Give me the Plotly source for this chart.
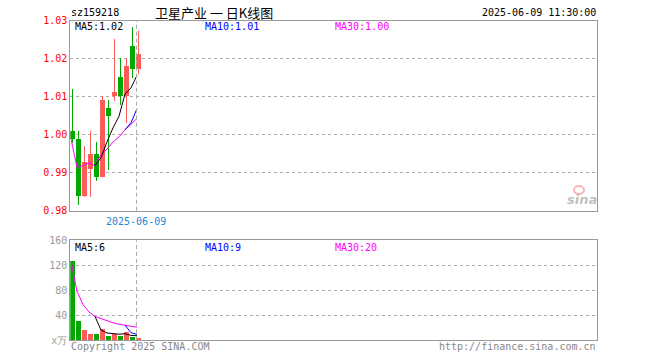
import plotly.graph_objects as go
import numpy as np
import pandas as pd

# ---------------- data ----------------
dates = ["2025-05-22", "2025-05-23", "2025-05-26", "2025-05-27", "2025-05-28", "2025-05-29",
         "2025-05-30", "2025-06-03", "2025-06-04", "2025-06-05", "2025-06-06", "2025-06-09"]
open_ = [1.0010, 0.9989, 0.9839, 0.9910, 0.9949, 0.9889, 1.0070, 1.0102, 1.0152, 1.0102, 1.0233, 1.0173]
high = [1.0120, 1.0010, 0.9970, 1.0010, 0.9981, 1.0102, 1.0091, 1.0252, 1.0202, 1.0202, 1.0283, 1.0273]
low = [0.9978, 0.9815, 0.9836, 0.9836, 0.9878, 0.9888, 0.9907, 1.0089, 1.0078, 1.0031, 1.0149, 1.0160]
close = [0.9989, 0.9839, 0.9928, 0.9949, 0.9889, 1.0091, 1.0049, 1.0112, 1.0102, 1.0181, 1.0173, 1.0212]
volume = [126, 30, 15, 9, 9, 17, 6, 9, 6, 12, 4, 3]  # 万

price_ticks = [0.98, 0.99, 1.00, 1.01, 1.02, 1.03]
vol_ticks = [0, 40, 80, 120, 160]
vol_ticktext = ["x万", "40", "80", "120", "160"]

title_text = "卫星产业 一 日K线图"
code_text = "sz159218"
time_text = "2025-06-09 11:30:00"
price_ma_labels = ["MA5:1.02", "MA10:1.01", "MA30:1.00"]
vol_ma_labels = ["MA5:6", "MA10:9", "MA30:20"]

# ---------------- derived ----------------
W, H = 660, 360
RED = "#FF5A5A"
GREEN = "#00A800"
MONO = "DejaVu Sans Mono"

n = len(dates)
x = np.arange(n)
o = np.array(open_); c = np.array(close); hi = np.array(high); lo = np.array(low)
up = c >= o
colors = [RED if u else GREEN for u in up]

cs = pd.Series(close)
vs = pd.Series(volume, dtype=float)
ma5 = cs.rolling(5).mean()
ma10 = cs.rolling(10).mean()
ma30 = cs.expanding(min_periods=1).mean()
vma5 = vs.rolling(5).mean()
vma10 = vs.rolling(10).mean()
vma30 = vs.expanding(min_periods=1).mean()

ma_x = x - 0.25

fig = go.Figure()

# wicks
for col, mask in [(RED, up), (GREEN, ~up)]:
    wx, wy = [], []
    for i in x[mask]:
        wx += [i, i, None]
        wy += [lo[i], hi[i], None]
    fig.add_trace(go.Scatter(x=wx, y=wy, mode="lines", line=dict(color=col, width=1),
                             xaxis="x", yaxis="y", hoverinfo="skip", showlegend=False))

# bodies
body_h = np.maximum(np.abs(c - o), 0.00005)
fig.add_trace(go.Bar(x=x, y=body_h, base=np.minimum(o, c), width=5 / 6,
                     marker=dict(color=colors, line=dict(width=0)),
                     xaxis="x", yaxis="y", showlegend=False,
                     customdata=np.stack([o, hi, lo, c], axis=1), hovertext=dates,
                     hovertemplate="%{hovertext}<br>O %{customdata[0]:.4f} H %{customdata[1]:.4f}"
                                   "<br>L %{customdata[2]:.4f} C %{customdata[3]:.4f}<extra></extra>"))

# price MAs
for s, col in [(ma30, "#FF00FF"), (ma10, "#0000FF"), (ma5, "#000000")]:
    fig.add_trace(go.Scatter(x=ma_x, y=s, mode="lines", line=dict(color=col, width=1),
                             xaxis="x", yaxis="y", showlegend=False, hoverinfo="skip"))

# volume bars
fig.add_trace(go.Bar(x=x, y=volume, width=5 / 6, marker=dict(color=colors, line=dict(width=0)),
                     xaxis="x2", yaxis="y2", showlegend=False, hovertext=dates))
for s, col in [(vma30, "#FF00FF"), (vma10, "#0000FF"), (vma5, "#000000")]:
    fig.add_trace(go.Scatter(x=ma_x, y=s, mode="lines", line=dict(color=col, width=1),
                             xaxis="x2", yaxis="y2", showlegend=False, hoverinfo="skip"))

# ---------------- layout ----------------
def px_x(p):
    return p / W

def px_y(p):
    return 1 - p / H

xr = [-0.367, 87.47]
main_dom = [px_y(210.7), px_y(20.7)]
vol_dom = [px_y(340.0), px_y(240.3)]
x_dom = [px_x(70.3), px_x(597.3)]

axis_common = dict(showline=True, mirror=True, linecolor="#999999", linewidth=1, zeroline=False)

fig.update_layout(
    width=W, height=H, margin=dict(l=0, r=0, t=0, b=0, autoexpand=False),
    paper_bgcolor="white", plot_bgcolor="white", bargap=0, showlegend=False,
    xaxis=dict(domain=x_dom, range=xr, anchor="y", showgrid=False, showticklabels=False,
               ticks="", **axis_common),
    xaxis2=dict(domain=x_dom, range=xr, anchor="y2", matches="x", showgrid=False,
                showticklabels=False, ticks="", **axis_common),
    yaxis=dict(domain=main_dom, range=[0.98, 1.03], anchor="x", tickvals=price_ticks,
               tickformat=".2f", tickfont=dict(family=MONO, size=10, color="#FF0000"),
               showgrid=True, gridcolor="#AAAAAA", griddash="dot", gridwidth=1, ticks="",
               **axis_common),
    yaxis2=dict(domain=vol_dom, range=[0, 160], anchor="x2", tickvals=vol_ticks,
                ticktext=vol_ticktext, tickfont=dict(family=MONO, size=10, color="#999999"),
                showgrid=True, gridcolor="#AAAAAA", griddash="dot", gridwidth=1, ticks="",
                **axis_common),
)

last_x = x[-1] - 0.33
fig.add_shape(type="line", xref="x", yref="y domain", x0=last_x, x1=last_x, y0=0, y1=1,
              line=dict(color="#AAAAAA", width=1, dash="4px,3px"))
fig.add_shape(type="line", xref="x2", yref="y2 domain", x0=last_x, x1=last_x, y0=0, y1=1,
              line=dict(color="#AAAAAA", width=1, dash="4px,3px"))

# sina logo (decorative)
fig.add_shape(type="circle", xref="paper", yref="paper",
              x0=px_x(574), x1=px_x(584), y0=px_y(194), y1=px_y(186),
              line=dict(color="rgba(240,120,120,0.55)", width=2))


def ann(text, px, py, color="#000000", size=10, xanchor="left", family=MONO, **kw):
    fig.add_annotation(text=text, x=px_x(px), y=px_y(py), xref="paper", yref="paper",
                       xanchor=xanchor, yanchor="middle", showarrow=False,
                       font=dict(family=family, size=size, color=color), **kw)


ann(code_text, 69, 13)
ann(title_text, 214, 13, size=13, xanchor="center", family="Noto Sans CJK SC")
ann(time_text, 598, 13, xanchor="right")

ma_cols = ["#000000", "#0000FF", "#FF00FF"]
ma_px = [73, 203, 333]
for t, col, p in zip(price_ma_labels, ma_cols, ma_px):
    ann(t, p, 27, color=col)
for t, col, p in zip(vol_ma_labels, ma_cols, ma_px):
    ann(t, p, 247, color=col)

ann(dates[-1], 136, 221, color="#1A88D8", xanchor="center")
ann("Copyright 2025 SINA.COM", 69, 346, color="#888888")
ann("http://finance.sina.com.cn", 598, 346, color="#888888", xanchor="right")
ann("<b><i>sina</i></b>", 582, 199, color="rgba(150,150,150,0.6)", size=13, xanchor="center",
    family="DejaVu Sans")

fig.write_html("out.html", config={"displayModeBar": False},
               post_script="document.body.style.margin='0';")
